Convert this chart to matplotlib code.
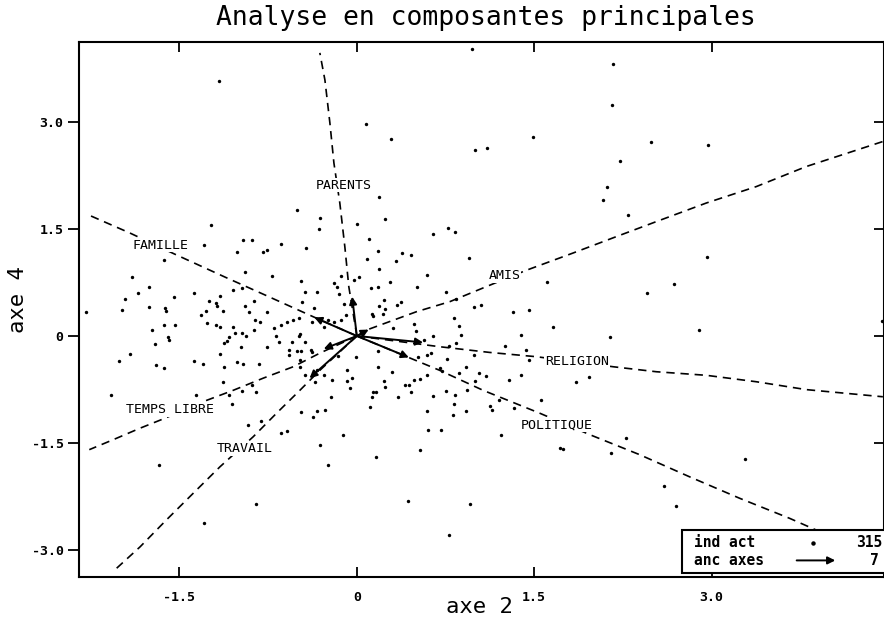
import numpy as np
import matplotlib.pyplot as plt

# individus actifs : coordonnées sur (axe 2, axe 4)
ind_x = [-1.23, -1.29, -0.96, -0.89, -1.01, -0.79, -0.76, -1.63, -0.95, -1.90,
         -1.76, -1.85, -1.96, -1.55, -1.38, -1.05, -0.97, -1.16, -1.25, -1.19,
         -1.18, -0.87, -2.29, -1.99, -1.76, -1.62, -1.61, -1.28, -1.32, -1.13,
         -0.95, -0.91, -0.76, -1.63, -1.54, -1.73, -1.27, -1.19, -1.16, -0.86,
         -0.82, -1.05, -0.87, -1.60, -1.08, -1.03, -0.97, -0.94, -1.59, -1.71,
         -2.01, -1.92, -1.70, -1.63, -1.38, -1.30, -1.12, -1.10, -0.98, -1.16,
         -1.12, -1.01, -0.96, -0.83, -0.76, -1.13, -0.89, -0.97, -0.85, -1.08,
         -1.06, -1.36, -2.08, -0.92, -0.81, -1.67, 0.19, -0.51, -0.31, -0.32,
         0.00, 0.24, 0.64, 0.77, -0.64, -0.43, 0.10, 0.18, 0.09, 0.38,
         0.46, 0.33, 0.19, -0.72, -0.47, -0.13, -0.02, 0.02, -0.19, -0.17,
         0.28, 0.59, 0.12, 0.18, 0.51, 0.75, -0.44, -0.34, -0.15, -0.46,
         -0.11, 0.23, 0.19, 0.24, 0.37, 0.34, -0.36, 0.13, 0.14, 0.22,
         -0.09, -0.13, -0.54, -0.49, -0.59, -0.64, -0.38, -0.24, -0.19, -0.70,
         -0.48, -0.49, -0.68, -0.28, 0.31, 0.48, 0.50, 0.64, 0.57, -0.66,
         -0.55, -0.44, -0.57, -0.57, -0.51, -0.47, -0.39, -0.38, -0.48, -0.48,
         -0.16, -0.01, 0.18, 0.52, 0.59, 0.63, 0.70, 0.72, 0.76, 0.78,
         -0.44, -0.35, -0.34, -0.28, -0.21, -0.08, -0.08, -0.04, -0.06, 0.18,
         0.30, 0.23, 0.24, 0.41, 0.44, 0.48, 0.53, 0.59, 0.46, 0.35,
         0.64, 0.75, 0.14, 0.16, 0.13, -0.22, 0.11, -0.27, -0.34, -0.37,
         -0.47, 0.59, -0.64, -0.59, -0.12, 0.60, 0.71, -0.31, 0.53, 0.16,
         -0.24, 2.08, 2.29, 0.83, 0.95, 1.61, 0.84, 0.99, 1.05, 1.32,
         1.46, 0.82, 0.86, 0.88, 1.66, 1.39, 2.14, 0.84, 1.25, 1.43,
         0.99, 1.46, 0.86, 0.92, 1.03, 1.09, 1.00, 1.29, 1.39, 1.85,
         1.96, 0.83, 0.93, 1.20, 1.13, 1.14, 1.33, 1.56, 0.82, 0.92,
         0.81, 1.22, 1.72, 2.15, 2.28, -1.17, 0.08, 0.29, 0.97, 2.17,
         2.16, 1.49, 1.00, 1.10, 2.49, 2.97, 2.23, 2.12, 2.96, 2.68,
         2.45, 2.89, 4.44, 1.74, 3.28, 2.60, 2.70, 0.96, -1.29, -0.85,
         0.43, 0.78]
ind_y = [1.55, 1.27, 1.34, 1.34, 1.18, 1.17, 1.20, 1.06, 0.89, 0.82,
         0.68, 0.60, 0.52, 0.55, 0.60, 0.64, 0.67, 0.56, 0.49, 0.46,
         0.42, 0.49, 0.34, 0.36, 0.40, 0.39, 0.35, 0.35, 0.30, 0.35,
         0.42, 0.33, 0.33, 0.16, 0.16, 0.08, 0.18, 0.16, 0.12, 0.22,
         0.19, 0.13, 0.08, -0.01, -0.01, 0.04, 0.04, 0.00, -0.05, -0.11,
         -0.35, -0.25, -0.41, -0.45, -0.35, -0.39, -0.10, -0.07, -0.16, -0.25,
         -0.44, -0.37, -0.39, -0.39, -0.16, -0.65, -0.69, -0.77, -0.78, -0.83,
         -0.95, -0.83, -0.82, -1.25, -1.19, -1.80, 1.94, 1.76, 1.65, 1.49,
         1.57, 1.63, 1.43, 1.51, 1.29, 1.23, 1.35, 1.19, 1.07, 1.16,
         1.13, 1.05, 0.93, 0.84, 0.77, 0.84, 0.78, 0.82, 0.74, 0.69,
         0.75, 0.85, 0.67, 0.69, 0.69, 0.61, 0.61, 0.61, 0.59, 0.47,
         0.45, 0.51, 0.42, 0.38, 0.47, 0.43, 0.39, 0.31, 0.28, 0.31,
         0.29, 0.22, 0.22, 0.25, 0.19, 0.16, 0.20, 0.23, 0.19, 0.11,
         0.03, 0.00, 0.00, 0.12, 0.11, 0.17, 0.07, 0.00, -0.05, -0.08,
         -0.08, -0.08, -0.20, -0.27, -0.21, -0.21, -0.20, -0.23, -0.34, -0.43,
         -0.28, -0.30, -0.21, -0.29, -0.27, -0.24, -0.45, -0.49, -0.32, -0.14,
         -0.54, -0.65, -0.47, -0.54, -0.61, -0.47, -0.63, -0.59, -0.73, -0.44,
         -0.51, -0.63, -0.71, -0.68, -0.68, -0.62, -0.60, -0.54, -0.78, -0.86,
         -0.84, -0.77, -0.78, -0.78, -0.85, -0.85, -0.99, -1.04, -1.05, -1.14,
         -1.07, -1.05, -1.35, -1.33, -1.38, -1.31, -1.31, -1.52, -1.59, -1.69,
         -1.80, 1.90, 1.69, 1.45, 1.09, 0.75, 0.52, 0.40, 0.43, 0.34,
         0.36, 0.25, 0.14, 0.01, 0.13, 0.01, -0.01, -0.10, -0.14, -0.20,
         -0.26, -0.34, -0.52, -0.43, -0.52, -0.56, -0.63, -0.62, -0.54, -0.65,
         -0.58, -0.82, -0.75, -0.90, -0.98, -1.03, -1.01, -0.89, -0.95, -1.05,
         -1.11, -1.39, -1.57, -1.63, -1.43, 3.56, 2.96, 2.76, 4.02, 3.80,
         3.23, 2.79, 2.60, 2.63, 2.71, 2.67, 2.45, 2.08, 1.10, 0.73,
         0.60, 0.09, 0.21, -1.58, -1.72, -2.10, -2.38, -2.35, -2.62, -2.35,
         -2.31, -2.78]

# variables (anc axes) : extrémités des flèches et étiquettes
var_names = ['PARENTS', 'FAMILLE', 'AMIS', 'RELIGION', 'POLITIQUE',
             'TEMPS LIBRE', 'TRAVAIL']
arrow_x = [-0.04, -0.36, 0.10, 0.56, 0.44, -0.28, -0.40]
arrow_y = [0.55, 0.26, 0.09, -0.09, -0.30, -0.18, -0.59]
label_x = [-0.11, -1.66, 1.25, 1.86, 1.69, -1.58, -0.95]
label_y = [2.11, 1.27, 0.85, -0.36, -1.24, -1.03, -1.58]

# tracés des axes supplémentaires (courbes en pointillés)
parents_x = [0.0, -0.068, -0.101, -0.144, -0.194, -0.228, -0.27, -0.313]
parents_y = [0.0, 0.69, 1.24, 1.86, 2.42, 2.98, 3.58, 3.96]
famille_x = [0.0, -0.37, -0.772, -1.11, -1.547, -1.919, -2.251]
famille_y = [0.0, 0.27, 0.57, 0.82, 1.15, 1.44, 1.68]
amis_x = [0.0, 0.11, 0.505, 0.786, 1.124, 1.435, 1.828, 2.195, 2.533,
          2.956, 3.379, 3.801, 4.449]
amis_y = [0.0, 0.10, 0.34, 0.48, 0.71, 0.92, 1.16, 1.39, 1.60,
          1.86, 2.09, 2.37, 2.72]
religion_x = [0.0, 0.70, 1.124, 1.519, 2.167, 2.533, 2.956, 3.379, 3.801, 4.449]
religion_y = [0.0, -0.15, -0.23, -0.29, -0.43, -0.50, -0.55, -0.64, -0.75, -0.85]
politique_x = [0.0, 0.70, 1.068, 1.547, 1.97, 2.392, 2.815, 3.238, 3.66, 4.167]
politique_y = [0.0, -0.48, -0.76, -1.08, -1.38, -1.66, -1.97, -2.27, -2.55, -2.92]
temps_x = [0.0, -0.313, -0.538, -0.792, -1.046, -1.27, -1.623, -1.834,
           -2.06, -2.263]
temps_y = [0.0, -0.24, -0.43, -0.59, -0.76, -0.90, -1.15, -1.29,
           -1.45, -1.59]
travail_x = [0.0, -0.313, -0.482, -0.679, -0.877, -1.158, -1.384, -1.609,
             -1.834, -2.046]
travail_y = [0.0, -0.48, -0.76, -1.08, -1.41, -1.83, -2.20, -2.57,
             -2.95, -3.27]
curves = [(parents_x, parents_y), (famille_x, famille_y), (amis_x, amis_y),
          (religion_x, religion_y), (politique_x, politique_y),
          (temps_x, temps_y), (travail_x, travail_y)]

n_ind = 315
xticks = [-1.5, 0, 1.5, 3.0]
yticks = [-3.0, -1.5, 0, 1.5, 3.0]
tick_labels_x = ['-1.5', '0', '1.5', '3.0']
tick_labels_y = ['-3.0', '-1.5', '0', '1.5', '3.0']

mono = 'DejaVu Sans Mono'

fig = plt.figure(figsize=(8.84, 6.23), dpi=100)
ax = fig.add_axes([79 / 884, 46 / 623, 805 / 884 - 0.0005, 535 / 623])
ax.set_xlim(-2.35, 4.455)
ax.set_ylim(-3.371, 4.112)

for cx, cy in curves:
    ax.plot(cx, cy, color='k', lw=1.2, linestyle=(0, (5, 3.5)), zorder=2)

ax.scatter(ind_x, ind_y, s=6, color='k', linewidths=0, zorder=3)

for xt, yt in zip(arrow_x, arrow_y):
    ax.annotate('', xy=(xt, yt), xytext=(0, 0),
                arrowprops=dict(arrowstyle='-|>', color='k', lw=1.4,
                                mutation_scale=11, shrinkA=0, shrinkB=0),
                zorder=4)

for name, lx, ly in zip(var_names, label_x, label_y):
    ax.text(lx, ly, name, family=mono, fontsize=9.5, ha='center', va='center',
            zorder=5, bbox=dict(fc='white', ec='none', pad=0.6))

# axes, ticks
for sp in ax.spines.values():
    sp.set_linewidth(1.5)
ax.set_xticks(xticks)
ax.set_xticklabels(tick_labels_x)
ax.set_yticks(yticks)
ax.set_yticklabels(tick_labels_y)
ax.tick_params(axis='x', direction='in', length=7, width=1.3, top=True,
               pad=10)
ax.tick_params(axis='y', direction='out', length=8, width=1.3, pad=3)
for lab in ax.get_xticklabels() + ax.get_yticklabels():
    lab.set_family(mono)
    lab.set_fontweight('bold')
    lab.set_fontsize(9.5)
sec = ax.secondary_yaxis('right')
sec.set_yticks(yticks)
sec.tick_params(direction='in', length=7, width=1.3, labelright=False)

ax.set_xlabel('axe 2', family=mono, fontsize=16, va='center')
ax.xaxis.set_label_coords(0.498, -0.056)
ax.set_ylabel('axe 4', family=mono, fontsize=16, va='center')
ax.yaxis.set_label_coords(-0.076, 0.518)

fig.text(0.55, 0.971, 'Analyse en composantes principales', family=mono,
         fontsize=19, ha='center', va='center')

# légende
ax.add_patch(plt.Rectangle((0.750, 0.008), 0.26, 0.08, transform=ax.transAxes,
                           fc='white', ec='k', lw=1.5, zorder=6, clip_on=False))
ax.text(0.765, 0.064, 'ind act', transform=ax.transAxes, family=mono,
        fontweight='bold', fontsize=10.5, va='center', zorder=7)
ax.text(0.765, 0.031, 'anc axes', transform=ax.transAxes, family=mono,
        fontweight='bold', fontsize=10.5, va='center', zorder=7)
ax.plot([0.912], [0.064], 'o', color='k', ms=2.2, transform=ax.transAxes,
        zorder=7)
ax.annotate('', xy=(0.940, 0.031), xytext=(0.892, 0.031),
            xycoords='axes fraction',
            arrowprops=dict(arrowstyle='-|>', color='k', lw=1.4,
                            mutation_scale=11, shrinkA=0, shrinkB=0),
            zorder=7)
ax.text(0.998, 0.064, str(n_ind), transform=ax.transAxes, family=mono,
        fontweight='bold', fontsize=10.5, va='center', ha='right', zorder=7)
ax.text(0.994, 0.031, str(len(var_names)), transform=ax.transAxes, family=mono,
        fontweight='bold', fontsize=10.5, va='center', ha='right', zorder=7)

fig.savefig('out.png', dpi=100)
